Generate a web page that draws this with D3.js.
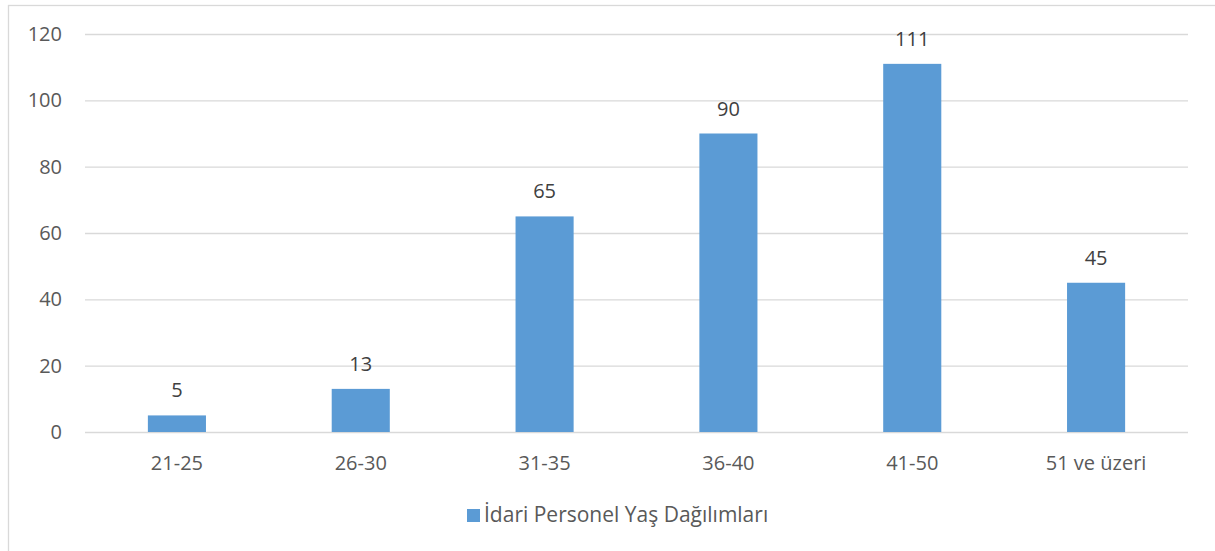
<!DOCTYPE html>
<html><head><meta charset="utf-8">
<script src="https://cdn.jsdelivr.net/npm/d3@7"></script>
<style>body{margin:0;background:#fff;}svg{display:block;}text{font-family:"Open Sans",sans-serif;}</style>
</head><body>
<svg id="c" width="1215" height="551"></svg>
<script>
const categories = ["21-25","26-30","31-35","36-40","41-50","51 ve üzeri"];
const values = [5,13,65,90,111,45];
const yTicks = [0,20,40,60,80,100,120];
const seriesName = "İdari Personel Yaş Dağılımları";

const FONT = "'Open Sans', sans-serif";
const FS = 20;
const svg = d3.select("#c");
svg.append("rect").attr("x",8.5).attr("y",5.5).attr("width",1215).attr("height",560)
  .attr("fill","#fff").attr("stroke","#d9d9d9").attr("stroke-width",1.3);

const m = {l:85, r:1188, t:34, b:432};
const x = d3.scaleBand().domain(categories).range([m.l,m.r]).paddingInner(0.684).paddingOuter(0.342);
const y = d3.scaleLinear().domain([0,120]).range([m.b,m.t]);

const ya = svg.append("g").attr("transform",`translate(${m.l},0)`)
  .call(d3.axisLeft(y).tickValues(yTicks).tickSize(-(m.r-m.l)).tickPadding(23));
ya.select(".domain").remove();
ya.selectAll(".tick line").attr("stroke","#d9d9d9").attr("stroke-width",1.3);
ya.selectAll(".tick text").attr("fill","#595959").attr("font-size",FS).attr("font-family",FONT);

const xa = svg.append("g").attr("transform",`translate(0,${m.b})`)
  .call(d3.axisBottom(x).tickSize(0).tickPadding(24));
xa.select(".domain").remove();
xa.selectAll(".tick text").attr("fill","#595959").attr("font-size",FS).attr("font-family",FONT);

svg.append("g").selectAll("rect").data(values).join("rect")
  .attr("x",(d,i)=>x(categories[i])).attr("width",x.bandwidth())
  .attr("y",d=>y(d)).attr("height",d=>y(0)-y(d)).attr("fill","#5b9bd5");

svg.append("g").selectAll("text").data(values).join("text")
  .attr("x",(d,i)=>x(categories[i])+x.bandwidth()/2).attr("y",d=>y(d)-18)
  .attr("text-anchor","middle").attr("fill","#404040").attr("font-size",FS).attr("font-family",FONT).text(d=>d);

const lg = svg.append("g");
lg.append("rect").attr("x",467).attr("y",509).attr("width",13).attr("height",13).attr("fill","#5b9bd5");
lg.append("text").attr("x",484).attr("y",522).attr("fill","#595959").attr("font-size",21).attr("font-family",FONT).text(seriesName);
</script>
</body></html>
